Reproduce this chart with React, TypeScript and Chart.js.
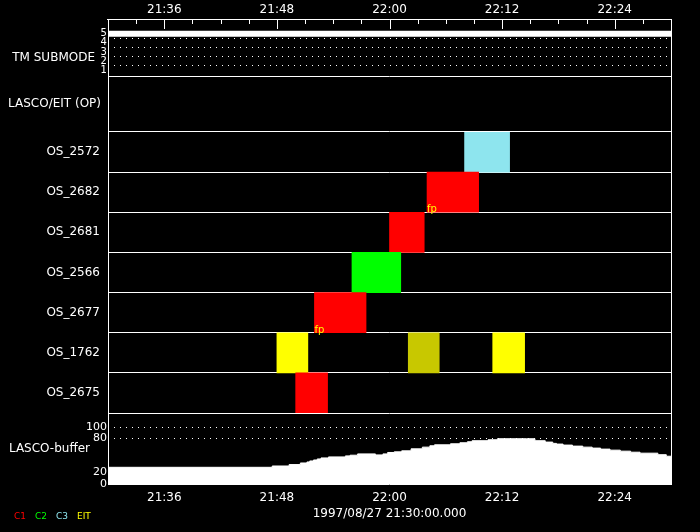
import React, { useEffect, useRef } from 'react';
import { Chart, registerables } from 'chart.js';

Chart.register(...registerables);

// ---------- data ----------
const axisStartLabel = '1997/08/27 21:30:00.000';
const timeRange = [0, 60]; // minutes after 21:30
const timeTickMinutes = [6, 18, 30, 42, 54];
const timeTickLabels = ['21:36', '21:48', '22:00', '22:12', '22:24'];

const tmLabel = ['TM SUBMODE'];
const lascoLabel = ['LASCO/EIT (OP)'];
const bufferLabel = ['LASCO-buffer'];

const submodeTickValues = [1, 2, 3, 4, 5];
const submodeGridValues = [1.5, 2.5, 3.5, 4.5];
const submodeTimes = [0, 60];
const submodeValues = [5, 5];

const osLabels = ['OS_2572', 'OS_2682', 'OS_2681', 'OS_2566', 'OS_2677', 'OS_1762', 'OS_2675'];
const obsRows = ['OS_2572', 'OS_2682', 'OS_2681', 'OS_2566', 'OS_2677', 'OS_1762', 'OS_1762', 'OS_1762', 'OS_2675'];
const obsStart = [38.0, 34.0, 30.0, 26.0, 22.0, 18.0, 32.0, 41.0, 20.0];
const obsEnd = [42.8, 39.5, 33.7, 31.2, 27.5, 21.3, 35.3, 44.4, 23.4];
const obsColors = ['#8ee5ee', '#ff0000', '#ff0000', '#00ff00', '#ff0000', '#ffff00', '#c8c800', '#ffff00', '#ff0000'];

const fpText = 'fp';
const fpRows = ['OS_2677', 'OS_2682'];
const fpTimes = [22.0, 34.0];

const bufTickValues = [0, 20, 80, 100];
const bufGridValues = [80, 100];
const bufTimes = [0, 17.5, 19.3, 20.5, 21.2, 21.5, 21.9, 22.3, 22.7, 23.5, 25.3, 25.8, 26.6, 28.5, 29.3, 29.8, 30.5, 31.3, 32.3, 33.5, 34.3, 34.8, 36.5, 37.5, 38.3, 38.8, 40.5, 41.5, 44.6, 45.5, 46.6, 47.4, 47.8, 48.5, 49.5, 50.6, 51.6, 52.5, 53.5, 54.6, 55.7, 56.7, 58.6, 59.5, 60];
const bufValues = [29.4, 31.7, 34.2, 37.0, 38.8, 40.6, 42.3, 44.1, 45.9, 47.7, 49.5, 50.7, 53.0, 51.2, 53.0, 55.5, 56.6, 58.4, 61.9, 64.9, 67.3, 69.0, 70.8, 72.6, 74.4, 76.2, 77.9, 79.7, 79.7, 76.2, 73.8, 71.5, 70.3, 68.5, 66.7, 64.9, 63.2, 61.4, 59.6, 57.8, 56.0, 54.3, 51.6, 48.9, 48.9];

const legendLabels = ['C1', 'C2', 'C3', 'EIT'];
const legendColors = ['#ff0000', '#00ff00', '#8ee5ee', '#ffff00'];

// ---------- styling helpers ----------
const white = '#ffffff';
const clear = 'rgba(0,0,0,0)';
const FONT = '"DejaVu Sans", sans-serif';
const fixW = (w: number) => (s: any) => { s.width = w; };
const fixH = (h: number) => (s: any) => { s.height = h; };
const tickLabel = (v: any) => {
  const i = timeTickMinutes.indexOf(Number(v));
  return i >= 0 ? timeTickLabels[i] : '';
};

const overlayPlugin = {
  id: 'overlay',
  afterDatasetsDraw(chart: any) {
    const ctx = chart.ctx;
    const xs = chart.scales.x;
    const ys = chart.scales.yOS;
    const top = chart.chartArea.top;
    ctx.save();
    ctx.strokeStyle = white;
    ctx.lineWidth = 1;
    ctx.beginPath();
    xs.ticks.forEach((t: any) => {
      if (t.value <= xs.min || t.value >= xs.max) return;
      const px = Math.round(xs.getPixelForValue(t.value)) + 0.5;
      const len = timeTickMinutes.includes(t.value) ? 10 : 5;
      ctx.moveTo(px, top);
      ctx.lineTo(px, top + len);
    });
    ctx.stroke();
    ctx.fillStyle = '#ffff00';
    ctx.font = '10px ' + FONT;
    ctx.textAlign = 'left';
    ctx.textBaseline = 'alphabetic';
    fpRows.forEach((r, i) => {
      const idx = osLabels.indexOf(r);
      const y = ys.getPixelForValue(idx + 0.5);
      const x = xs.getPixelForValue(fpTimes[i]);
      ctx.fillText(fpText, x, y);
    });
    ctx.restore();
  },
};

const nameAxis = (
  labels: string[],
  weightInStack: number,
  order: number,
  padding: number,
  gridColor: any,
  labelOffset = 0
) => ({
  type: 'category',
  labels,
  position: 'left',
  stack: 'names',
  stackWeight: weightInStack,
  weight: order,
  offset: true,
  grid: { offset: true, color: gridColor, lineWidth: 1, drawTicks: false },
  border: { display: false },
  ticks: { autoSkip: false, padding, labelOffset, color: white, font: { size: 12 } },
  afterFit: fixW(96),
});

export default function App() {
  const ref = useRef<HTMLCanvasElement>(null);

  useEffect(() => {
    Chart.defaults.font.family = FONT;
    Chart.defaults.color = white;
    const canvas = ref.current as HTMLCanvasElement;
    const xCommon = {
      type: 'linear',
      min: timeRange[0],
      max: timeRange[1],
      offset: false,
      grid: { display: false, drawTicks: false },
    };
    const chart = new Chart(canvas, {
      type: 'line',
      data: {
        datasets: [
          {
            type: 'line',
            label: 'TM submode',
            xAxisID: 'x',
            yAxisID: 'ySub',
            data: submodeTimes.map((t, i) => ({ x: t, y: submodeValues[i] })),
            borderColor: white,
            borderWidth: 6,
            pointRadius: 0,
            fill: false,
          },
          {
            type: 'bar',
            label: 'OS',
            indexAxis: 'y',
            xAxisID: 'x',
            yAxisID: 'yOS',
            data: obsRows.map((r, i) => ({ y: r, x: [obsStart[i], obsEnd[i]] })),
            backgroundColor: obsColors,
            borderWidth: 0,
            barPercentage: 1,
            categoryPercentage: 1,
            grouped: false,
          },
          {
            type: 'line',
            label: 'LASCO-buffer',
            xAxisID: 'x',
            yAxisID: 'yBuf',
            data: bufTimes.map((t, i) => ({ x: t, y: bufValues[i] })),
            borderColor: white,
            backgroundColor: white,
            borderWidth: 1,
            pointRadius: 0,
            stepped: true,
            fill: 'origin',
          },
        ] as any,
      },
      options: {
        responsive: false,
        animation: false,
        devicePixelRatio: 1,
        events: [],
        layout: { padding: { left: 5, top: 0, right: 0, bottom: 0 } },
        plugins: {
          tooltip: { enabled: false },
          legend: {
            display: true,
            position: 'bottom',
            align: 'start',
            labels: {
              boxWidth: 0,
              boxHeight: 10,
              padding: 4.5,
              color: white,
              font: { size: 9 },
              generateLabels: () =>
                legendLabels.map((text, i) => ({
                  text,
                  fontColor: legendColors[i],
                  fillStyle: clear,
                  strokeStyle: clear,
                  lineWidth: 0,
                  hidden: false,
                  datasetIndex: i,
                })),
            },
          },
        },
        scales: {
          x: {
            ...xCommon,
            position: 'top',
            border: { display: true, color: white },
            ticks: { stepSize: 3, autoSkip: false, maxRotation: 0, minRotation: 0, padding: 2, color: white, font: { size: 12 }, callback: tickLabel },
            afterFit: fixH(19),
          },
          xb: {
            ...xCommon,
            position: 'bottom',
            border: { display: false },
            ticks: { stepSize: 3, autoSkip: false, maxRotation: 0, minRotation: 0, padding: 7, color: white, font: { size: 12 }, callback: tickLabel },
            title: { display: true, text: axisStartLabel, color: white, font: { size: 12 }, padding: { top: 0, bottom: -13.7 } },
            afterFit: fixH(23.5),
          },
          yR: {
            type: 'linear',
            position: 'right',
            ticks: { display: false },
            grid: { display: false, drawTicks: false },
            border: { display: true, color: white },
            afterFit: fixW(29),
          },
          nTM: nameAxis(tmLabel, 57, 14, 6, white, 10),
          nLasco: nameAxis(lascoLabel, 56, 13, 0, clear),
          yOS: nameAxis(osLabels, 281, 12, 1, white),
          nBuf: nameAxis(bufferLabel, 71, 11, 11, (c: any) => (c.index === 0 ? clear : white)),
          ySub: {
            type: 'linear',
            position: 'left',
            stack: 'vals',
            stackWeight: 57,
            weight: 4,
            min: 0.4,
            max: 6.6,
            afterBuildTicks: (s: any) => {
              s.ticks = [...submodeTickValues, ...submodeGridValues].sort((a, b) => a - b).map((v) => ({ value: v }));
            },
            grid: { color: (c: any) => (c.tick && submodeGridValues.includes(c.tick.value) ? white : clear), drawTicks: false },
            border: { display: true, color: white, dash: [1, 5] },
            ticks: {
              autoSkip: false,
              mirror: true,
              crossAlign: 'far',
              padding: -7.4,
              color: white,
              font: { size: 10 },
              callback: (v: any) => (submodeTickValues.includes(v) ? String(v) : ''),
            },
            afterFit: fixW(7),
          },
          yGap: {
            type: 'linear',
            position: 'left',
            stack: 'vals',
            stackWeight: 337,
            weight: 3,
            ticks: { display: false },
            grid: { display: false, drawTicks: false },
            border: { display: true, color: white },
            afterFit: fixW(7),
          },
          yBuf: {
            type: 'linear',
            position: 'left',
            stack: 'vals',
            stackWeight: 71,
            weight: 2,
            min: 0,
            max: 125,
            afterBuildTicks: (s: any) => {
              s.ticks = bufTickValues.map((v) => ({ value: v }));
            },
            grid: { color: (c: any) => (c.tick && bufGridValues.includes(c.tick.value) ? white : clear), drawTicks: false },
            border: { display: true, color: white, dash: [1, 5] },
            ticks: { autoSkip: false, mirror: true, crossAlign: 'far', padding: -22, color: white, font: { size: 11 } },
            afterFit: fixW(7),
          },
        } as any,
      } as any,
      plugins: [overlayPlugin],
    } as any);
    return () => chart.destroy();
  }, []);

  return (
    <div style={{ position: 'fixed', left: 0, top: 0, width: 700, height: 532, background: '#000' }}>
      <canvas ref={ref} width={700} height={532} style={{ display: 'block', width: 700, height: 532, background: '#000' }} />
    </div>
  );
}
